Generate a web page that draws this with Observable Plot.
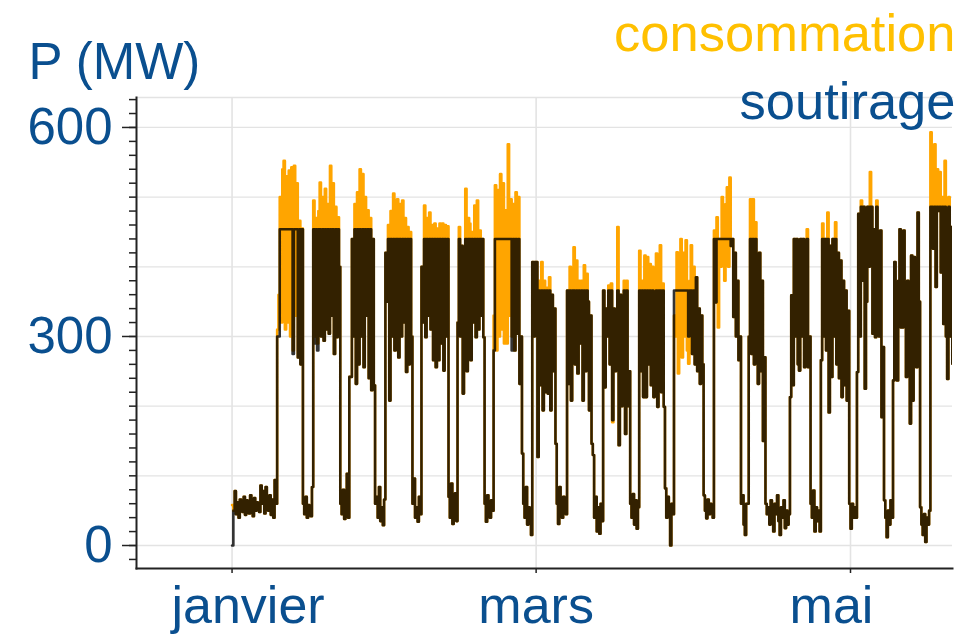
<!DOCTYPE html>
<html>
<head>
<meta charset="utf-8">
<script src="https://cdn.jsdelivr.net/npm/d3@7"></script>
<script src="https://cdn.jsdelivr.net/npm/@observablehq/plot@0.6"></script>
<style>
  html, body { margin: 0; padding: 0; background: #fff; }
  #chart { width: 963px; height: 637px; }
</style>
</head>
<body>
<div id="chart"></div>
<script>
// Values every 6 hours (00h, 06h, 12h, 18h) starting 1 January 2022, in MW
const consoJan = [
  58,50,78,45, 62,40,66,55, 48,70,44,65, 60,46,72,52, 42,68,50,62, 55,48,86,60, 78,46,84,58, 50,72,44,66, 40,94,60,310,
  360,500,320,540, 552,310,530,320, 538,300,543,280, 545,330,520,270, 466,260,455,60, 45,70,40,58, 52,42,84,495,
  300,470,290,480, 521,300,500,294, 512,310,490,304, 545,330,520,275, 486,299,471,400, 60,45,80,38, 50,103,40,242,
  242,440,300,490, 232,507,260,540, 300,533,256,500, 330,481,240,470, 223,440,230,60, 70,40,84,35, 55,29,66,420,
  350,460,208,480
];
const consoFeb = [
  300,505,280,470, 497,270,490,300, 495,320,470,249, 457,260,450,300, 60,96,40,55, 34,70,45,400,
  320,488,299,470, 330,478,310,460, 266,462,256,455, 266,462,290,462, 251,460,300,458, 70,40,89,31, 55,75,35,320,
  457,300,430,218, 300,512,250,470, 462,266,450,320, 488,299,495,310, 452,330,440,299, 60,34,72,45, 40,65,50,330,
  517,280,510,300, 533,310,520,290, 481,290,576,330, 497,300,490,280, 507,304,500,232, 300,132,60,40, 84,30,55,45,
  15,407,300,407
];
const consoMar = [
  407,127,380,230, 407,194,380,220, 370,218,385,194, 360,250,340,146, 60,31,84,50, 40,70,55,45,
  366,232,400,208, 300,428,260,409, 247,380,290,380, 208,402,250,390, 350,194,330,146, 130,40,70,20, 55,17,60,35,
  366,227,340,300, 373,260,376,177, 340,250,300,457, 144,360,200,340, 380,160,380,200, 250,60,40,74, 30,65,24,55,
  423,250,380,213, 416,213,414,260, 404,230,400,213, 350,419,199,380, 431,220,376,199, 82,40,70,55, 0,60,45,330,
  300,421,247,400, 440,270,420,300, 438,280,261,380, 431,275,400,260
];
const consoApr = [
  385,250,340,232, 330,260,72,50, 39,66,45,60,
  55,40,452,349, 471,313,440,400, 500,420,380,490, 514,400,528,430, 440,328,420,300, 380,266,300,60, 72,30,15,60,
  60,300,497,275, 497,260,464,300, 232,420,250,380, 150,270,60,45, 55,30,65,40, 20,60,45,72, 35,15,55,40,
  65,25,50,30, 45,213,359,230, 440,300,440,260, 251,440,300,440, 256,420,454,256, 300,60,40,79, 20,55,35,50,
  20,266,462,300, 440,280,478,191, 430,242,440,300, 464,260,420,240, 409,213,380,230, 366,208,337,60
];
const consoMay = [
  24,60,40,55, 40,249,476,300, 495,380,486,225, 350,486,400,536, 486,304,454,299, 495,320,300,452, 184,285,65,40,
  12,50,30,65, 40,237,407,300, 237,380,454,313, 313,452,350,242, 380,300,175,416, 208,414,300,256, 478,350,55,30,
  15,45,5,40, 30,50,593,486, 426,576,371,540, 480,536,392,500, 318,552,300,239, 500,300,457,261, 400,300,450,280
];

const soutJan = [
  0,50,78,45, 62,40,66,55, 48,70,44,65, 60,46,72,52, 42,68,50,62, 55,48,86,60, 78,46,84,58, 50,72,44,66, 40,94,60,300,
  300,454,454,454, 454,454,454,454, 454,454,454,275, 454,454,454,270, 454,260,454,60, 45,70,40,58, 52,42,84,454,
  290,454,280,454, 454,300,454,294, 454,310,454,304, 454,330,454,275, 454,299,454,400, 60,45,80,38, 50,103,40,242,
  242,440,300,454, 232,454,260,454, 300,454,256,454, 330,454,240,454, 223,440,230,60, 70,40,84,35, 55,29,66,420,
  350,440,208,440
];
const soutFeb = [
  300,440,280,440, 440,270,440,300, 440,320,440,249, 440,260,440,300, 60,96,40,55, 34,70,45,400,
  320,440,299,440, 330,440,310,440, 266,440,256,440, 266,440,290,440, 251,440,300,440, 70,40,89,31, 55,75,35,320,
  440,300,430,218, 300,440,250,440, 440,266,440,320, 440,299,440,310, 440,330,440,299, 60,34,72,45, 40,65,50,280,
  440,440,440,440, 440,440,440,440, 440,440,440,440, 440,280,440,280, 440,304,440,232, 300,132,60,40, 84,30,55,45,
  15,407,300,407
];
const soutMar = [
  407,127,366,230, 366,194,366,220, 366,218,366,194, 360,250,340,146, 60,31,84,50, 40,70,55,45,
  366,232,366,208, 366,366,260,366, 247,366,290,366, 208,366,250,366, 350,194,330,146, 130,40,70,20, 55,17,60,35,
  366,227,340,300, 366,260,366,180, 340,250,300,366, 144,360,200,340, 366,160,366,200, 250,60,40,74, 30,65,24,55,
  366,250,366,213, 366,213,366,260, 366,230,366,213, 350,366,199,366, 366,220,366,199, 82,40,70,55, 0,60,45,366,
  366,366,366,366, 366,366,366,366, 366,366,300,366, 366,275,366,260
];
const soutApr = [
  385,250,340,232, 330,260,72,50, 39,66,45,60,
  55,40,440,349, 440,440,440,440, 440,440,440,440, 440,440,440,430, 440,328,420,300, 380,266,300,60, 72,30,15,60,
  60,300,440,275, 440,260,440,300, 232,420,250,380, 150,270,60,45, 55,30,65,40, 20,60,45,72, 35,15,55,40,
  65,25,50,30, 45,213,359,230, 440,300,440,260, 251,440,300,440, 256,420,440,256, 300,60,40,79, 20,55,35,50,
  20,266,440,300, 440,280,440,191, 430,242,440,300, 440,260,420,240, 409,213,380,230, 366,208,337,60
];
const soutMay = [
  24,60,40,55, 40,249,476,300, 486,380,486,225, 350,486,400,486, 486,304,454,299, 486,320,300,452, 184,285,65,40,
  12,50,30,65, 40,237,407,300, 237,380,454,313, 313,452,350,242, 380,300,175,416, 208,414,300,256, 478,350,55,30,
  15,45,5,40, 30,50,486,486, 426,486,371,486, 480,486,392,486, 318,486,300,239, 486,300,457,261, 400,300,450,280
];

const seriesNames = ["consommation", "soutirage"];
const yTickValues = [0, 300, 600];
const yGridValues = [0, 100, 200, 300, 400, 500, 600];
const monthTickDates = ["2022-01-01", "2022-03-01", "2022-05-01"];
const monthTickLabels = ["janvier", "mars", "mai"];
const startDate = "2022-01-01";
const xDomain = ["2021-12-13T11:00Z", "2022-05-20T19:00Z"];
const yDomain = [-33, 643];
const stepHours = 6;

const blue = "#0a4f8f";
const orange = "#FFA500";
const font = "'Liberation Sans', Arial, Helvetica, sans-serif";

const t0 = new Date(startDate + "T00:00Z").getTime();
const toRows = vals => vals.map((v, k) => ({date: new Date(t0 + k * stepHours * 3600e3), v}));
const conso = toRows([...consoJan, ...consoFeb, ...consoMar, ...consoApr, ...consoMay]);
const sout = toRows([...soutJan, ...soutFeb, ...soutMar, ...soutApr, ...soutMay]);
const monthTicks = monthTickDates.map(d => new Date(d + "T00:00Z"));
const labelShift = [16, 0, -19];

const monthLabels = monthTicks.map((m, i) => Plot.axisX({
  ticks: [m], tickSize: 0, tickPadding: 18, label: null,
  fill: blue, fontSize: 52, dx: labelShift[i], tickFormat: () => monthTickLabels[i]
}));

const chart = Plot.plot({
  width: 963,
  height: 637,
  marginLeft: 136,
  marginRight: 11,
  marginTop: 97,
  marginBottom: 69,
  style: {fontFamily: font, background: "#fff", overflow: "visible"},
  x: {type: "utc", domain: xDomain.map(d => new Date(d))},
  y: {domain: yDomain},
  marks: [
    Plot.gridY({ticks: yGridValues, stroke: "#e3e3e3", strokeOpacity: 1, strokeWidth: 1.3}),
    Plot.gridX({ticks: monthTicks, stroke: "#e3e3e3", strokeOpacity: 1, strokeWidth: 1.6}),
    Plot.frame({anchor: "top", stroke: "#e3e3e3", strokeWidth: 1.3}),
    Plot.lineY(conso, {x: "date", y: "v", stroke: orange, strokeWidth: 2.6, curve: "step-after", clip: true}),
    Plot.lineY(sout, {x: "date", y: "v", stroke: "#000", strokeOpacity: 0.8, strokeWidth: 2.6, curve: "step-after", clip: true}),
    Plot.axisY({ticks: d3.range(-20, 641, 20), tickSize: 7, tickFormat: () => "", label: null, stroke: "#222", strokeWidth: 1.5}),
    Plot.axisY({ticks: yTickValues, tickSize: 14, tickPadding: 10, label: null, stroke: "#222", strokeWidth: 1.5, fill: blue, fontSize: 51}),
    Plot.axisX({ticks: monthTicks, tickSize: 5, tickFormat: () => "", label: null, stroke: "#222", strokeWidth: 1.5}),
    ...monthLabels,
    Plot.frame({anchor: "left", stroke: "#222", strokeWidth: 2}),
    Plot.frame({anchor: "bottom", stroke: "#222", strokeWidth: 2}),
    Plot.text(["P (MW)"], {text: d => d, frameAnchor: "top-left", dx: -108, dy: -35, textAnchor: "start", lineAnchor: "middle", fill: blue, fontSize: 51}),
    Plot.text([seriesNames[0]], {text: d => d, frameAnchor: "top-right", dx: 3, dy: -63, textAnchor: "end", lineAnchor: "middle", fill: "#FFC000", fontSize: 52.5}),
    Plot.text([seriesNames[1]], {text: d => d, frameAnchor: "top-right", dx: 3, dy: 5, textAnchor: "end", lineAnchor: "middle", fill: blue, fontSize: 52.5})
  ]
});
document.getElementById("chart").appendChild(chart);
</script>
</body>
</html>
